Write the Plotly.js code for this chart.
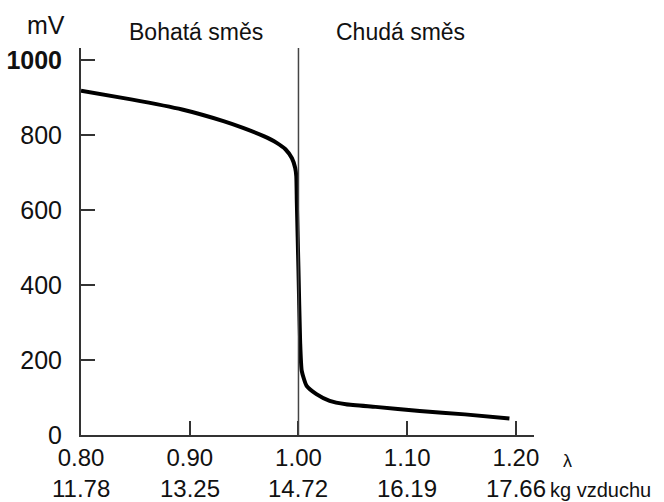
<!DOCTYPE html>
<html>
<head>
<meta charset="utf-8">
<script src="https://cdn.plot.ly/plotly-3.0.1.min.js"></script>
<style>
  html, body { margin: 0; padding: 0; background: #fff; }
  #chart { width: 664px; height: 502px; }
</style>
</head>
<body>
<div id="chart"></div>
<script>
// Lambda-sensor output voltage versus excess-air ratio
const lambdaVals = [0.800, 0.846, 0.893, 0.931, 0.949, 0.968, 0.980, 0.988, 0.994, 0.997, 0.998, 0.9985,
                    1.000, 1.0015, 1.003, 1.0075, 1.0165, 1.0287, 1.0437, 1.0709, 1.1115, 1.153, 1.194];
const voltageMV = [918, 895, 868, 837, 819, 797, 779, 762, 738, 712, 690, 620,
                   440, 250, 171, 131, 109, 91, 82, 75, 64, 55, 44];

// Axis ticks: lambda and the matching air mass (kg of air per kg of fuel)
const lambdaTicks = [0.80, 0.90, 1.00, 1.10, 1.20];
const lambdaLabels = ['0.80', '0.90', '1.00', '1.10', '1.20'];
const airMassLabels = ['11.78', '13.25', '14.72', '16.19', '17.66'];
const mvTicks = [0, 200, 400, 600, 800, 1000];
const mvLabels = ['0', '200', '400', '600', '800', '<b>1000</b>'];

// Region labels and the stoichiometric divider
const regionLabels = ['Bohatá směs', 'Chudá směs'];
const stoichLambda = 1.00;

const FONT = 'Liberation Sans, Arial, Helvetica, sans-serif';
const INK = '#111';
const AXIS = '#333';

const curve = {
  x: lambdaVals,
  y: voltageMV,
  type: 'scatter',
  mode: 'lines',
  line: { color: '#000', width: 4, shape: 'spline', smoothing: 0.5 },
  hoverinfo: 'skip'
};

const annotations = [
  { text: 'mV', xref: 'paper', yref: 'paper', x: -0.077, y: 1.059,
    xanchor: 'center', yanchor: 'middle', showarrow: false,
    font: { family: FONT, size: 25, color: INK } },
  { text: regionLabels[0], xref: 'paper', yref: 'paper', x: 0.254, y: 1.041,
    xanchor: 'center', yanchor: 'middle', showarrow: false,
    font: { family: FONT, size: 23, color: INK } },
  { text: regionLabels[1], xref: 'paper', yref: 'paper', x: 0.705, y: 1.041,
    xanchor: 'center', yanchor: 'middle', showarrow: false,
    font: { family: FONT, size: 23, color: INK } },
  { text: 'λ', xref: 'paper', yref: 'paper', x: 1.073, y: 0, yshift: -26,
    xanchor: 'center', yanchor: 'middle', showarrow: false,
    font: { family: FONT, size: 18, color: INK } },
  { text: 'kg vzduchu', xref: 'paper', yref: 'paper', x: 1.031, y: 0, yshift: -55,
    xanchor: 'left', yanchor: 'middle', showarrow: false,
    font: { family: FONT, size: 20, color: INK } }
];

// Second row of x tick labels: air mass
lambdaTicks.forEach((v, i) => {
  annotations.push({
    text: airMassLabels[i], xref: 'x', yref: 'paper', x: v, y: 0, yshift: -53,
    xanchor: 'center', yanchor: 'middle', showarrow: false,
    font: { family: FONT, size: 24, color: INK }
  });
});

const layout = {
  width: 664,
  height: 502,
  margin: { l: 81, r: 130, t: 48, b: 67 },
  paper_bgcolor: '#fff',
  plot_bgcolor: '#fff',
  showlegend: false,
  xaxis: {
    range: [0.8, 1.2166],
    tickmode: 'array',
    tickvals: lambdaTicks,
    ticktext: lambdaLabels,
    ticks: 'inside',
    ticklen: 14,
    tickwidth: 2,
    tickcolor: AXIS,
    showline: true,
    linecolor: AXIS,
    linewidth: 2,
    showgrid: false,
    zeroline: false,
    ticklabelstandoff: 0,
    tickfont: { family: FONT, size: 24, color: INK },
    fixedrange: true
  },
  yaxis: {
    range: [0, 1032],
    tickmode: 'array',
    tickvals: mvTicks,
    ticktext: mvLabels,
    ticks: 'inside',
    ticklen: 14,
    tickwidth: 2,
    tickcolor: AXIS,
    showline: true,
    linecolor: AXIS,
    linewidth: 2,
    showgrid: false,
    zeroline: false,
    ticklabelstandoff: 12,
    tickfont: { family: FONT, size: 25, color: INK },
    fixedrange: true
  },
  shapes: [
    { type: 'line', xref: 'x', yref: 'paper', x0: stoichLambda, x1: stoichLambda, y0: 0, y1: 1,
      line: { color: '#444', width: 1.5 } }
  ],
  annotations: annotations
};

Plotly.newPlot('chart', [curve], layout, { staticPlot: true, displayModeBar: false });
</script>
</body>
</html>
